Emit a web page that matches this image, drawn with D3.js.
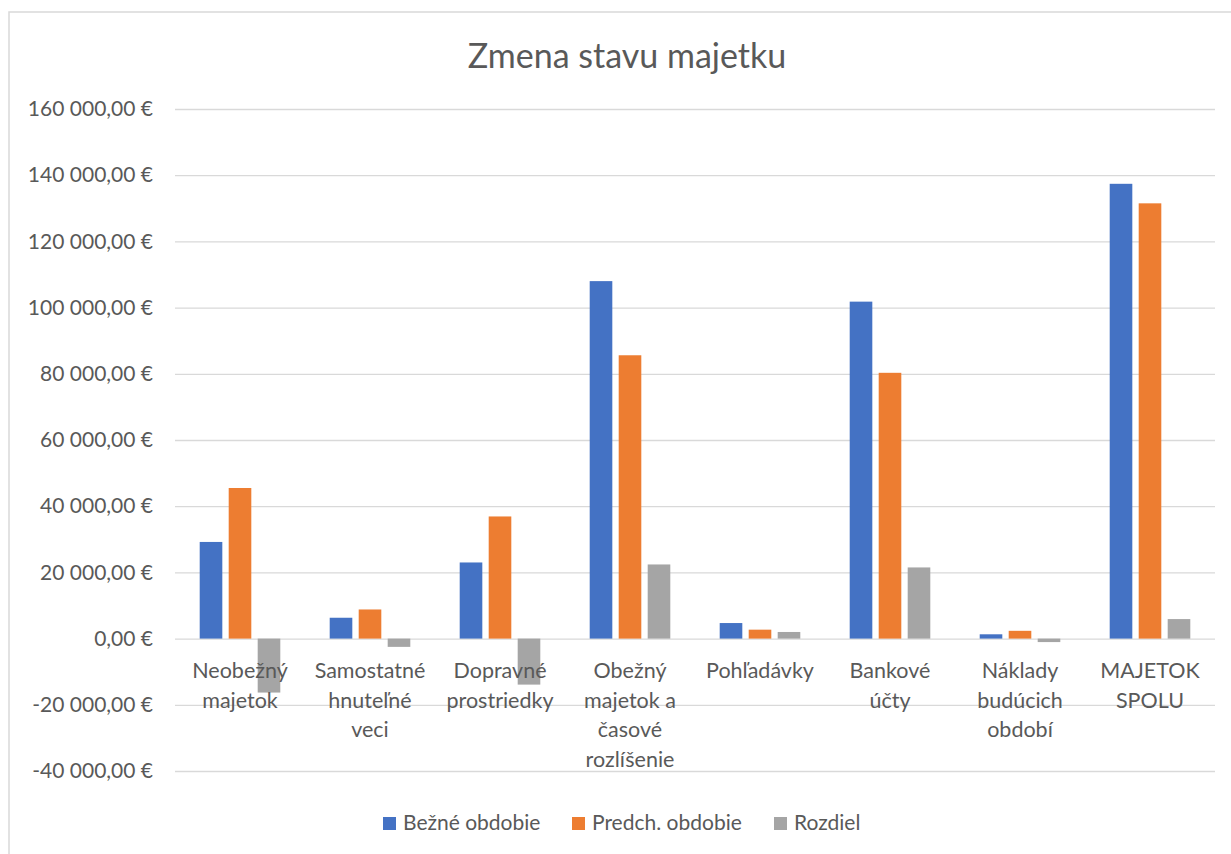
<!DOCTYPE html>
<html>
<head>
<meta charset="utf-8">
<script src="https://cdn.jsdelivr.net/npm/d3@7"></script>
<style>
  body { margin: 0; background: #fff; }
  svg { display: block; font-family: Lato, "Open Sans", sans-serif; }
</style>
</head>
<body>
<svg id="chart" width="1231" height="854"></svg>
<script>
// categories (line breaks as in the original axis)
const categories = [
  ['Neobežný', 'majetok'],
  ['Samostatné', 'hnuteľné', 'veci'],
  ['Dopravné', 'prostriedky'],
  ['Obežný', 'majetok a', 'časové', 'rozlíšenie'],
  ['Pohľadávky'],
  ['Bankové', 'účty'],
  ['Náklady', 'budúcich', 'období'],
  ['MAJETOK', 'SPOLU']
]
const seriesNames = ['Bežné obdobie', 'Predch. obdobie', 'Rozdiel']
const bezne = [29200, 6300, 23000, 108000, 4700, 101800, 1300, 137400]
const predch = [45500, 8800, 36900, 85600, 2700, 80300, 2350, 131500]
const rozdiel = [-16300, -2500, -13900, 22400, 2000, 21500, -1050, 5900]
const yTicks = [-40000, -20000, 0, 20000, 40000, 60000, 80000, 100000, 120000, 140000, 160000]
const colors = ['#4472C4', '#ED7D31', '#A5A5A5']

const values = [bezne, predch, rozdiel]
const svg = d3.select('#chart')

// chart frame
svg.append('rect')
  .attr('x', 9).attr('y', 12)
  .attr('width', 1240).attr('height', 860)
  .attr('fill', 'none')
  .attr('stroke', '#d9d9d9')
  .attr('stroke-width', 1.5)

const plotLeft = 175, plotRight = 1215

const x0 = d3.scaleBand()
  .domain(d3.range(categories.length))
  .range([plotLeft, plotRight])

const x1 = d3.scaleBand()
  .domain(d3.range(seriesNames.length))
  .range([x0.bandwidth() * 0.19, x0.bandwidth() * 0.81])
  .paddingInner(0.22)

const y = d3.scaleLinear()
  .domain([-40000, 160000])
  .range([771, 109])

// "160 000,00 €" style, plain hyphen for negatives
const fmt = v => d3.format(',.2f')(v)
  .replace(/,/g, ' ').replace('.', ',').replace('\u2212', '-') + ' €'

// gridlines + y labels
const yAxis = svg.append('g')
  .attr('transform', 'translate(' + plotLeft + ',0)')
  .call(d3.axisLeft(y).tickValues(yTicks).tickSize(-(plotRight - plotLeft)).tickPadding(22).tickFormat(fmt))
yAxis.select('.domain').remove()
yAxis.selectAll('.tick line')
  .attr('stroke', '#d9d9d9')
  .attr('stroke-width', 1.3)
yAxis.selectAll('.tick text')
  .attr('fill', '#595959')
  .style('font-size', '21px')
  .style('font-family', 'Lato, sans-serif')

// bars
const groups = svg.append('g').selectAll('g')
  .data(categories)
  .join('g')
  .attr('transform', (d, i) => 'translate(' + x0(i) + ',0)')

groups.selectAll('rect')
  .data((d, i) => values.map((s, k) => ({ k: k, v: s[i] })))
  .join('rect')
  .attr('x', d => x1(d.k))
  .attr('width', x1.bandwidth())
  .attr('y', d => y(Math.max(0, d.v)))
  .attr('height', d => Math.abs(y(d.v) - y(0)))
  .attr('fill', d => colors[d.k])

// category labels
const labels = svg.append('g')
  .selectAll('text')
  .data(categories)
  .join('text')
  .attr('x', (d, i) => x0(i) + x0.bandwidth() / 2)
  .attr('y', 678)
  .attr('text-anchor', 'middle')
  .attr('fill', '#595959')
  .style('font-size', '21.5px')

labels.selectAll('tspan')
  .data(d => d)
  .join('tspan')
  .attr('x', function () { return this.parentNode.getAttribute('x') })
  .attr('dy', (d, j) => j === 0 ? 0 : 29.5)
  .text(d => d)

// title
svg.append('text')
  .attr('x', 627)
  .attr('y', 68)
  .attr('text-anchor', 'middle')
  .attr('fill', '#595959')
  .style('font-size', '34px')
  .text('Zmena stavu majetku')

// legend
const legendX = [383, 572, 774]
const legend = svg.append('g')
  .selectAll('g')
  .data(seriesNames)
  .join('g')
  .attr('transform', (d, i) => 'translate(' + legendX[i] + ',817)')
legend.append('rect')
  .attr('width', 13).attr('height', 13)
  .attr('fill', (d, i) => colors[i])
legend.append('text')
  .attr('x', 20).attr('y', 13)
  .attr('fill', '#595959')
  .style('font-size', '21px')
  .text(d => d)
</script>
</body>
</html>
